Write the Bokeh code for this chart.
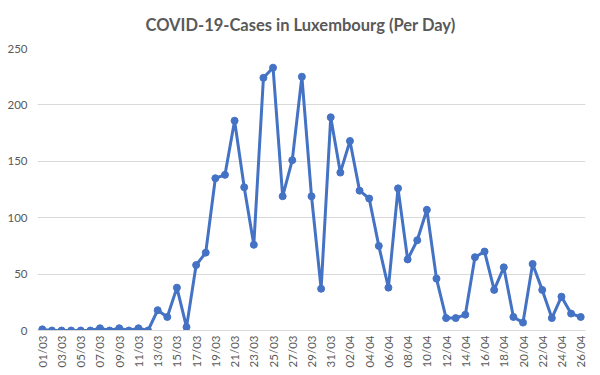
import numpy as np
from bokeh.plotting import figure
from bokeh.models import FixedTicker, Range1d, Title
from bokeh.embed import file_html
from bokeh.resources import INLINE
from math import pi

dates = [f"{d:02d}/03" for d in range(1, 32)] + [f"{d:02d}/04" for d in range(1, 27)]
cases = [1, 0, 0, 0, 0, 0, 2, 0, 2, 0, 2, 0, 18, 12, 38, 3, 58, 69, 135, 138,
         186, 127, 76, 224, 233, 119, 151, 225, 119, 37, 189,
         140, 168, 124, 117, 75, 38, 126, 63, 80, 107, 46, 11, 11, 14, 65, 70,
         36, 56, 12, 7, 59, 36, 11, 30, 15, 12]
y_ticks = [0, 50, 100, 150, 200, 250]

x = list(range(len(dates)))

p = figure(frame_width=548, frame_height=282, output_backend="svg", toolbar_location=None,
           x_range=Range1d(-0.5, len(dates) - 0.5), y_range=Range1d(0, 250),
           min_border_left=37, min_border_right=7, min_border_top=48, min_border_bottom=37)
p.title = Title(text="COVID-19-Cases in Luxembourg (Per Day)", align="left",
                text_font="Lato", text_font_size="16.5px", text_font_style="bold",
                text_color="#595959", offset=108, standoff=26, vertical_align="middle")
p.outline_line_color = None
p.background_fill_color = "white"
p.border_fill_color = "white"

p.line(x, cases, line_color="#4472C4", line_width=3)
p.scatter(x, cases, size=7, fill_color="#4472C4", line_color="#4472C4")

for ax in (p.xaxis, p.yaxis):
    ax.major_tick_out = 0
    ax.major_tick_in = 0
    ax.minor_tick_out = 0
    ax.minor_tick_in = 0
    ax.major_tick_line_color = None
    ax.minor_tick_line_color = None
    ax.major_label_text_font = "Lato"
    ax.major_label_text_font_size = "11.5px"
    ax.major_label_text_color = "#595959"
    ax.axis_label_standoff = 0

p.xaxis.ticker = FixedTicker(ticks=x[::2])
p.xaxis.major_label_overrides = {i: dates[i] for i in x}
p.xaxis.major_label_orientation = pi / 2
p.xaxis.axis_line_color = "#D9D9D9"
p.xaxis.major_label_standoff = 5

p.yaxis.ticker = FixedTicker(ticks=y_ticks)
p.yaxis.axis_line_color = None
p.yaxis.major_label_standoff = 10

p.xgrid.grid_line_color = None
p.ygrid.grid_line_color = "#D9D9D9"
p.ygrid.ticker = FixedTicker(ticks=y_ticks)

open("out.html", "w").write(file_html(p, INLINE))
